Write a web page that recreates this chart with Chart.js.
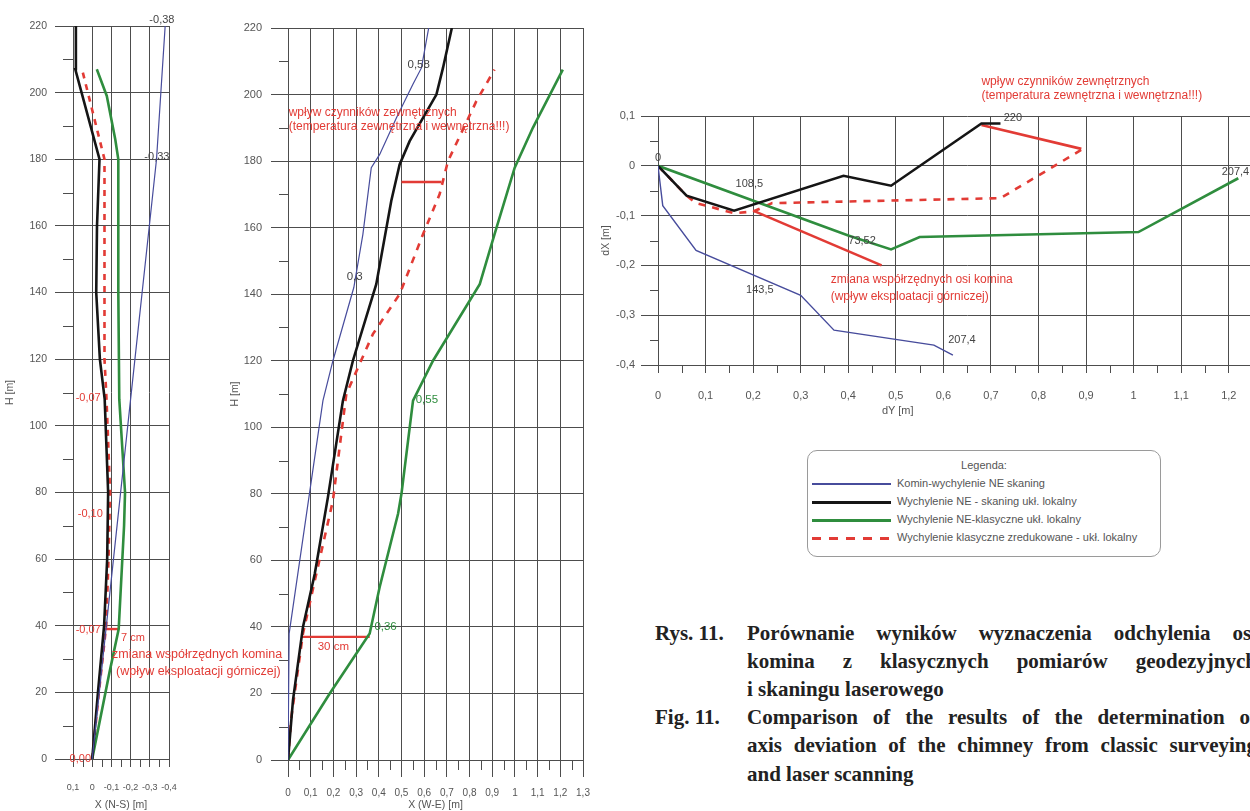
<!DOCTYPE html>
<html>
<head>
<meta charset="utf-8">
<script src="https://cdn.jsdelivr.net/npm/chart.js@4.4.1/dist/chart.umd.min.js"></script>
<style>
  body { margin: 0; width: 1250px; height: 811px; overflow: hidden; background: #fff; position: relative;
         font-family: "Liberation Sans", Arial, sans-serif; }
  canvas { position: absolute; top: 0; }
  .note { position: absolute; color: #e23b35; font-size: 12.5px; white-space: nowrap; line-height: 1; }
  #legend { position: absolute; left: 807px; top: 450px; width: 352px; height: 105px; border: 1px solid #9a9a9a;
            border-radius: 10px; font-size: 11px; color: #555; }
  #legend .title { position: absolute; top: 8px; width: 100%; text-align: center; }
  #legend .row { position: absolute; left: 4px; height: 13px; line-height: 13px; white-space: nowrap; }
  #legend .sw { display: inline-block; width: 79px; vertical-align: middle; margin-right: 6px; }
  #cap { position: absolute; left: 655px; top: 618.5px;
         font-family: "Liberation Serif", "Times New Roman", serif; font-weight: bold; font-size: 21px;
         line-height: 28.2px; color: #222; white-space: nowrap; }
  #cap .lab { display: inline-block; width: 92px; }
  #cap .ln { display: inline-block; width: 510px; white-space: normal; }
  #cap .j { text-align: justify; text-align-last: justify; }
</style>
</head>
<body>
<canvas id="ns" width="200" height="811" style="left:0"></canvas>
<canvas id="we" width="400" height="811" style="left:200px"></canvas>
<canvas id="plan" width="700" height="416" style="left:600px"></canvas>

<div class="note" style="left:112px; top:648px">zmiana współrzędnych komina</div>
<div class="note" style="left:116px; top:665px">(wpływ eksploatacji górniczej)</div>
<div style="position:absolute; left:882px; top:404px; font-size:11px; color:#555">dY [m]</div>

<div id="legend">
  <div class="title">Legenda:</div>
  <div class="row" style="top:26px"><span class="sw" style="border-top:2px solid #474c9c"></span>Komin-wychylenie NE skaning</div>
  <div class="row" style="top:44px"><span class="sw" style="border-top:3px solid #151515"></span>Wychylenie NE - skaning ukł. lokalny</div>
  <div class="row" style="top:62px"><span class="sw" style="border-top:3px solid #2f8d3e"></span>Wychylenie NE-klasyczne ukł. lokalny</div>
  <div class="row" style="top:80px"><span class="sw" style="height:3px; background:repeating-linear-gradient(90deg,#e23b35 0 9px,transparent 9px 17px)"></span>Wychylenie klasyczne zredukowane - ukł. lokalny</div>
</div>

<div id="cap">
  <div><span class="lab">Rys. 11.</span><span class="ln j">Porównanie wyników wyznaczenia odchylenia osi</span></div>
  <div><span class="lab"></span><span class="ln j">komina z klasycznych pomiarów geodezyjnych</span></div>
  <div><span class="lab"></span><span class="ln">i skaningu laserowego</span></div>
  <div><span class="lab">Fig. 11.</span><span class="ln j">Comparison of the results of the determination of</span></div>
  <div><span class="lab"></span><span class="ln j">axis deviation of the chimney from classic surveying</span></div>
  <div><span class="lab"></span><span class="ln">and laser scanning</span></div>
</div>

<script>
const FONT = '"Liberation Sans", Arial, sans-serif';
const RED = '#e23b35', BLACK = '#151515', GREEN = '#2f8d3e', BLUE = '#474c9c';
const GRID = '#4d4d4d', TICK = '#555';

// --- N-S profile: [deviation X (m), height H (m)] ---
const nsScan      = [[0, 0], [-0.07, 38], [-0.2, 108], [-0.335, 180], [-0.38, 220]];
const nsScanLocal = [[0, 0], [-0.03, 20], [-0.062, 40], [-0.078, 60], [-0.083, 80], [-0.065, 108], [-0.04, 120],
                     [-0.021, 140], [-0.025, 160], [-0.038, 180], [0.088, 207], [0.085, 220]];
const nsClassic   = [[0, 0], [-0.09, 26], [-0.138, 39], [-0.166, 70], [-0.171, 80], [-0.141, 108], [-0.136, 140],
                     [-0.136, 180], [-0.12, 186], [-0.076, 199], [-0.024, 207]];
const nsReduced   = [[0, 0], [-0.035, 20], [-0.073, 40], [-0.085, 60], [-0.093, 80], [-0.08, 100], [-0.073, 110],
                     [-0.064, 120], [-0.064, 180], [0.053, 207]];
const nsShift     = [[-0.062, 39], [-0.138, 39]];

// --- W-E profile ---
const weScan      = [[0, 0], [0.005, 38], [0.154, 108], [0.198, 120], [0.29, 142], [0.33, 158], [0.367, 178],
                     [0.404, 182], [0.478, 193], [0.55, 203], [0.588, 208], [0.62, 220]];
const weScanLocal = [[0, 0], [0.022, 18], [0.066, 40], [0.118, 56], [0.176, 79], [0.242, 108], [0.286, 120],
                     [0.389, 143], [0.455, 168], [0.492, 179], [0.536, 186], [0.654, 200], [0.683, 208], [0.722, 220]];
const weClassic   = [[0, 0], [0.184, 20], [0.36, 38], [0.404, 52], [0.485, 74], [0.5, 80], [0.551, 108], [0.639, 120],
                     [0.845, 143], [0.91, 158], [0.999, 178], [1.079, 190], [1.211, 207.5]];
const weReduced   = [[0, 0], [0.015, 13], [0.066, 38], [0.125, 56], [0.198, 78], [0.257, 110], [0.374, 128],
                     [0.492, 140], [0.595, 158], [0.668, 170], [0.705, 180], [0.83, 198], [0.91, 207.5]];
const weShiftTop  = [[0.5, 173.7], [0.676, 173.7]];
const weShiftLow  = [[0.059, 37], [0.36, 37]];

// --- plan view: [dY (m), dX (m)] ---
const planScan      = [[0, 0], [0.01, -0.08], [0.08, -0.17], [0.3, -0.26], [0.37, -0.33], [0.58, -0.36], [0.62, -0.38]];
const planScanLocal = [[0, 0], [0.06, -0.06], [0.16, -0.09], [0.39, -0.02], [0.49, -0.04], [0.68, 0.085], [0.72, 0.085]];
const planClassic   = [[0, 0], [0.4, -0.14], [0.49, -0.168], [0.55, -0.143], [1.01, -0.133], [1.22, -0.025]];
const planReduced   = [[0, 0], [0.06, -0.06], [0.08, -0.075], [0.16, -0.095], [0.2, -0.092], [0.24, -0.075],
                       [0.72, -0.065], [0.89, 0.032]];
const planMining    = [[0.2, -0.09], [0.47, -0.2]];
const planThermal   = [[0.68, 0.082], [0.89, 0.034]];

// --- helpers ---
function isMajor(v, step) {
  const r = v / step;
  return Math.abs(r - Math.round(r)) < 1e-6;
}
function fmt(v) {
  return String(Math.round(v * 10) / 10).replace('.', ',');
}
function line(data, color, width, dash) {
  return {
    data: data.map(([x, y]) => ({ x, y })),
    borderColor: color, borderWidth: width, borderDash: dash || [],
    showLine: true, pointRadius: 0, fill: false, tension: 0
  };
}
function axis(o) {
  const gridCol = c => (c.tick && isMajor(c.tick.value, o.major) ? GRID : 'rgba(0,0,0,0)');
  return {
    type: 'linear', min: o.min, max: o.max, reverse: !!o.reverse,
    afterFit: s => { if (s.isHorizontal()) s.height = o.fix; else s.width = o.fix; },
    ticks: {
      stepSize: o.step, autoSkip: false, maxRotation: 0, minRotation: 0, padding: o.pad,
      color: TICK, font: { family: FONT, size: o.font },
      callback: v => (isMajor(v, o.major) ? fmt(v) : '')
    },
    grid: { color: gridCol, tickColor: gridCol, tickLength: o.tickLen, lineWidth: 1 },
    border: { color: GRID, width: 1 },
    title: {
      display: !!o.title, text: o.title, color: TICK,
      font: { family: FONT, size: 10.5 }, padding: { top: o.titlePad || 0, bottom: 0 }
    }
  };
}

// short ticks between the labelled ones
const minorTicks = {
  id: 'minorTicks',
  afterDraw(chart, args, opts) {
    const ctx = chart.ctx;
    ctx.save();
    ctx.strokeStyle = GRID;
    ctx.lineWidth = 1;
    ['x', 'y'].forEach(id => {
      const s = chart.scales[id], o = opts[id];
      s.ticks.forEach(t => {
        if (isMajor(t.value, o.major)) return;
        const p = Math.round(s.getPixelForValue(t.value)) + 0.5;
        ctx.beginPath();
        if (id === 'x') { ctx.moveTo(p, s.top); ctx.lineTo(p, s.top + o.len); }
        else { ctx.moveTo(s.right, p); ctx.lineTo(s.right - o.len, p); }
        ctx.stroke();
      });
    });
    ctx.restore();
  }
};

// text notes at data positions
const notes = {
  id: 'notes',
  afterDatasetsDraw(chart, args, opts) {
    const { ctx, scales: { x, y } } = chart;
    ctx.save();
    (opts.items || []).forEach(n => {
      ctx.font = `${n.s || opts.size}px ${FONT}`;
      ctx.fillStyle = n.c;
      ctx.textAlign = n.a || 'center';
      ctx.textBaseline = 'middle';
      ctx.fillText(n.t, x.getPixelForValue(n.x), y.getPixelForValue(n.y));
    });
    ctx.restore();
  }
};

function makeChart(id, datasets, scales, padding, minor, items) {
  return new Chart(document.getElementById(id), {
    type: 'scatter',
    data: { datasets },
    options: {
      responsive: false, animation: false,
      layout: { padding },
      scales,
      plugins: {
        legend: { display: false }, tooltip: { enabled: false },
        minorTicks: minor, notes: { size: 11, items }
      }
    },
    plugins: [minorTicks, notes]
  });
}

// --- N-S chart ---
makeChart('ns', [
  line(nsScan, BLUE, 1.2),
  line(nsScanLocal, BLACK, 2.6),
  line(nsClassic, GREEN, 2.6),
  line(nsReduced, RED, 2.6, [6, 6]),
  line(nsShift, RED, 2.4)
], {
  x: axis({ min: -0.4, max: 0.1, step: 0.05, major: 0.1, reverse: true, fix: 52, tickLen: 8, pad: 15, font: 9, title: 'X (N-S) [m]' }),
  y: axis({ min: 0, max: 220, step: 10, major: 20, fix: 71, tickLen: 18, pad: 8, font: 10.5, title: 'H [m]', titlePad: 2 })
}, { left: 2, top: 26, right: 31, bottom: 0 },
{ x: { major: 0.1, len: 8 }, y: { major: 20, len: 10 } },
[
  { t: '-0,38', x: -0.363, y: 221.8, c: '#444' },
  { t: '-0,33', x: -0.337, y: 180.7, c: '#444' },
  { t: '-0,07', x: 0.021, y: 108.3, c: RED },
  { t: '-0,10', x: 0.01, y: 73.5, c: RED },
  { t: '-0,07', x: 0.021, y: 38.7, c: RED },
  { t: '7 cm', x: -0.212, y: 36.3, c: RED },
  { t: '0,00', x: 0.062, y: 0, c: RED }
]);

// --- W-E chart ---
makeChart('we', [
  line(weScan, BLUE, 1.2),
  line(weScanLocal, BLACK, 2.6),
  line(weClassic, GREEN, 2.6),
  line(weReduced, RED, 2.6, [7, 7]),
  line(weShiftTop, RED, 2.4),
  line(weShiftLow, RED, 2.4)
], {
  x: axis({ min: 0, max: 1.3, step: 0.05, major: 0.1, fix: 51, tickLen: 17, pad: 10, font: 10, title: 'X (W-E) [m]' }),
  y: axis({ min: 0, max: 220, step: 10, major: 20, fix: 59, tickLen: 17, pad: 9, font: 11, title: 'H [m]' })
}, { left: 29, top: 28, right: 17, bottom: 0 },
{ x: { major: 0.1, len: 10 }, y: { major: 20, len: 9 } },
[
  { t: '0,58', x: 0.576, y: 209, c: '#444', s: 11.5 },
  { t: '0,3', x: 0.294, y: 145.2, c: '#444', s: 11.5 },
  { t: '0,55', x: 0.612, y: 108.2, c: GREEN, s: 11.5 },
  { t: '0,36', x: 0.43, y: 40, c: GREEN, s: 11.5 },
  { t: '30 cm', x: 0.2, y: 34, c: RED, s: 11.5 },
  { t: 'wpływ czynników zewnętrznych', x: 0.003, y: 194.5, c: RED, a: 'left', s: 12 },
  { t: '(temperatura zewnętrzna i wewnętrzna!!!)', x: 0.003, y: 190.2, c: RED, a: 'left', s: 12 }
]);

// --- plan chart ---
makeChart('plan', [
  line(planScan, BLUE, 1.4),
  line(planScanLocal, BLACK, 2.6),
  line(planClassic, GREEN, 2.6),
  line(planReduced, RED, 2.6, [7, 7]),
  line(planMining, RED, 2.6),
  line(planThermal, RED, 2.6)
], {
  x: axis({ min: 0, max: 1.3, step: 0.05, major: 0.1, fix: 51, tickLen: 8, pad: 16, font: 11 }),
  y: axis({ min: -0.4, max: 0.1, step: 0.05, major: 0.1, fix: 58, tickLen: 17, pad: 6, font: 11, title: 'dX [m]' })
}, { left: 0, top: 116, right: 11.5, bottom: 0 },
{ x: { major: 0.1, len: 8 }, y: { major: 0.1, len: 8 } },
[
  { t: '0', x: 0, y: 0.016, c: '#444' },
  { t: '108,5', x: 0.192, y: -0.036, c: '#444' },
  { t: '73,52', x: 0.429, y: -0.151, c: '#444' },
  { t: '143,5', x: 0.214, y: -0.249, c: '#444' },
  { t: '207,4', x: 0.639, y: -0.349, c: '#444' },
  { t: '220', x: 0.746, y: 0.096, c: '#444' },
  { t: '207,4', x: 1.185, y: -0.012, c: '#444', a: 'left' },
  { t: 'wpływ czynników zewnętrznych', x: 0.68, y: 0.169, c: RED, a: 'left', s: 12 },
  { t: '(temperatura zewnętrzna i wewnętrzna!!!)', x: 0.68, y: 0.141, c: RED, a: 'left', s: 12 },
  { t: 'zmiana współrzędnych osi komina', x: 0.363, y: -0.229, c: RED, a: 'left', s: 12 },
  { t: '(wpływ eksploatacji górniczej)', x: 0.363, y: -0.263, c: RED, a: 'left', s: 12 }
]);
</script>
</body>
</html>
